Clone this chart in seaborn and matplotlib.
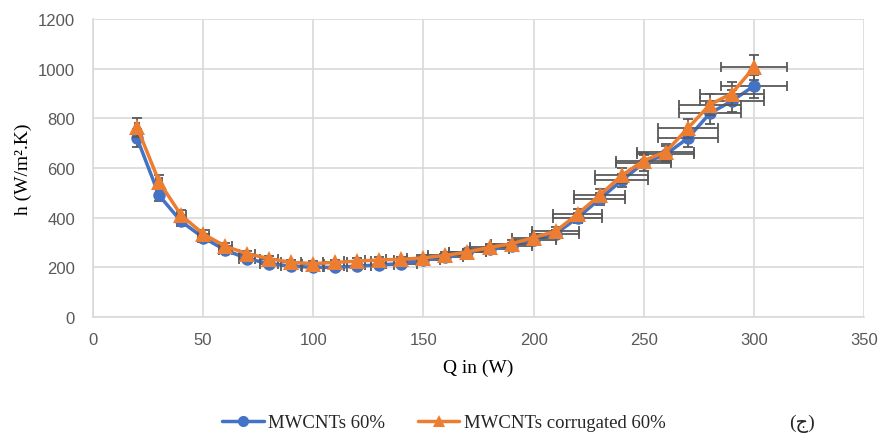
import numpy as np
import pandas as pd
import matplotlib
matplotlib.use("Agg")
import matplotlib.pyplot as plt
import seaborn as sns
from matplotlib.lines import Line2D

q_values = [20, 30, 40, 50, 60, 70, 80, 90, 100, 110, 120, 130, 140, 150, 160,
            170, 180, 190, 200, 210, 220, 230, 240, 250, 260, 270, 280, 290, 300]
h_plain = [720, 490, 385, 320, 270, 235, 215, 205, 200, 200, 205, 210, 215, 230, 240,
           260, 275, 285, 310, 335, 400, 475, 550, 620, 655, 720, 820, 870, 930]
h_corr = [765, 545, 410, 335, 285, 255, 235, 220, 215, 220, 225, 230, 232, 238, 248,
          262, 280, 295, 320, 345, 415, 490, 570, 630, 665, 760, 855, 900, 1005]
series_names = ["MWCNTs 60%", "MWCNTs corrugated 60%"]
err_frac = 0.05
x_ticks = [0, 50, 100, 150, 200, 250, 300, 350]
y_ticks = [0, 200, 400, 600, 800, 1000, 1200]

blue = "#4472C4"
orange = "#ED7D31"
errc = "#595959"

sns.set_style("white")
plt.rcParams['font.family'] = ['Liberation Sans', 'DejaVu Sans']

fig = plt.figure(figsize=(8.83, 4.39), dpi=100)
ax = fig.add_axes([0.1053, 0.2756, 0.8732, 0.6788])

df = pd.DataFrame({
    "Q": q_values * 2,
    "h": h_plain + h_corr,
    "series": [series_names[0]] * len(q_values) + [series_names[1]] * len(q_values),
})

sns.lineplot(data=df, x="Q", y="h", hue="series", style="series",
             palette=[blue, orange], markers=["o", "^"], dashes=False,
             markersize=9, markeredgewidth=0, linewidth=2.5, ax=ax,
             legend=False)
series_lines = [l for l in ax.lines if len(l.get_xdata()) == len(q_values)]
for i, line in enumerate(series_lines):
    line.set_zorder(2.5 + 2 * i)
    if line.get_marker() == "^":
        line.set_markersize(11)

q = np.array(q_values, dtype=float)
for i, hv in enumerate((h_plain, h_corr)):
    hv = np.array(hv, dtype=float)
    ax.errorbar(q, hv, xerr=q * err_frac, yerr=hv * err_frac, fmt="none",
                ecolor=errc, elinewidth=1.3, capsize=3.5, capthick=1.3,
                zorder=2 + 2 * i)

ax.set_xlim(0, 350)
ax.set_ylim(0, 1200)
ax.set_xticks(x_ticks)
ax.set_yticks(y_ticks)
ax.grid(True, color="#D9D9D9", linewidth=1.2)
ax.set_axisbelow(True)
for s in ["top", "right"]:
    ax.spines[s].set_visible(False)
for s in ["left", "bottom"]:
    ax.spines[s].set_color("#D9D9D9")
    ax.spines[s].set_linewidth(1.2)
ax.tick_params(axis="both", labelsize=12, colors="#595959", length=0)
ax.tick_params(axis="y", pad=13)
ax.tick_params(axis="x", pad=11)

ax.set_xlabel("Q in (W)", fontsize=14, family="Liberation Serif", color="black", labelpad=8)
ax.set_ylabel("h (W/m².K)", fontsize=14, family="Liberation Serif", color="black", labelpad=4)

handles = [
    Line2D([], [], color=blue, marker="o", markersize=8, markeredgewidth=0, linewidth=2.5),
    Line2D([], [], color=orange, marker="^", markersize=9, markeredgewidth=0, linewidth=2.5),
]
fig.legend(handles, series_names, loc="center", bbox_to_anchor=(0.503, 0.035),
           ncol=2, frameon=False, handlelength=2.2, handletextpad=0.25,
           columnspacing=1.75, prop={"family": "Liberation Serif", "size": 13.5})
fig.text(0.908, 0.035, "(ج)", ha="center", va="center", fontsize=14,
         family=["Liberation Serif", "DejaVu Sans"])

fig.savefig("out.png", dpi=100)
